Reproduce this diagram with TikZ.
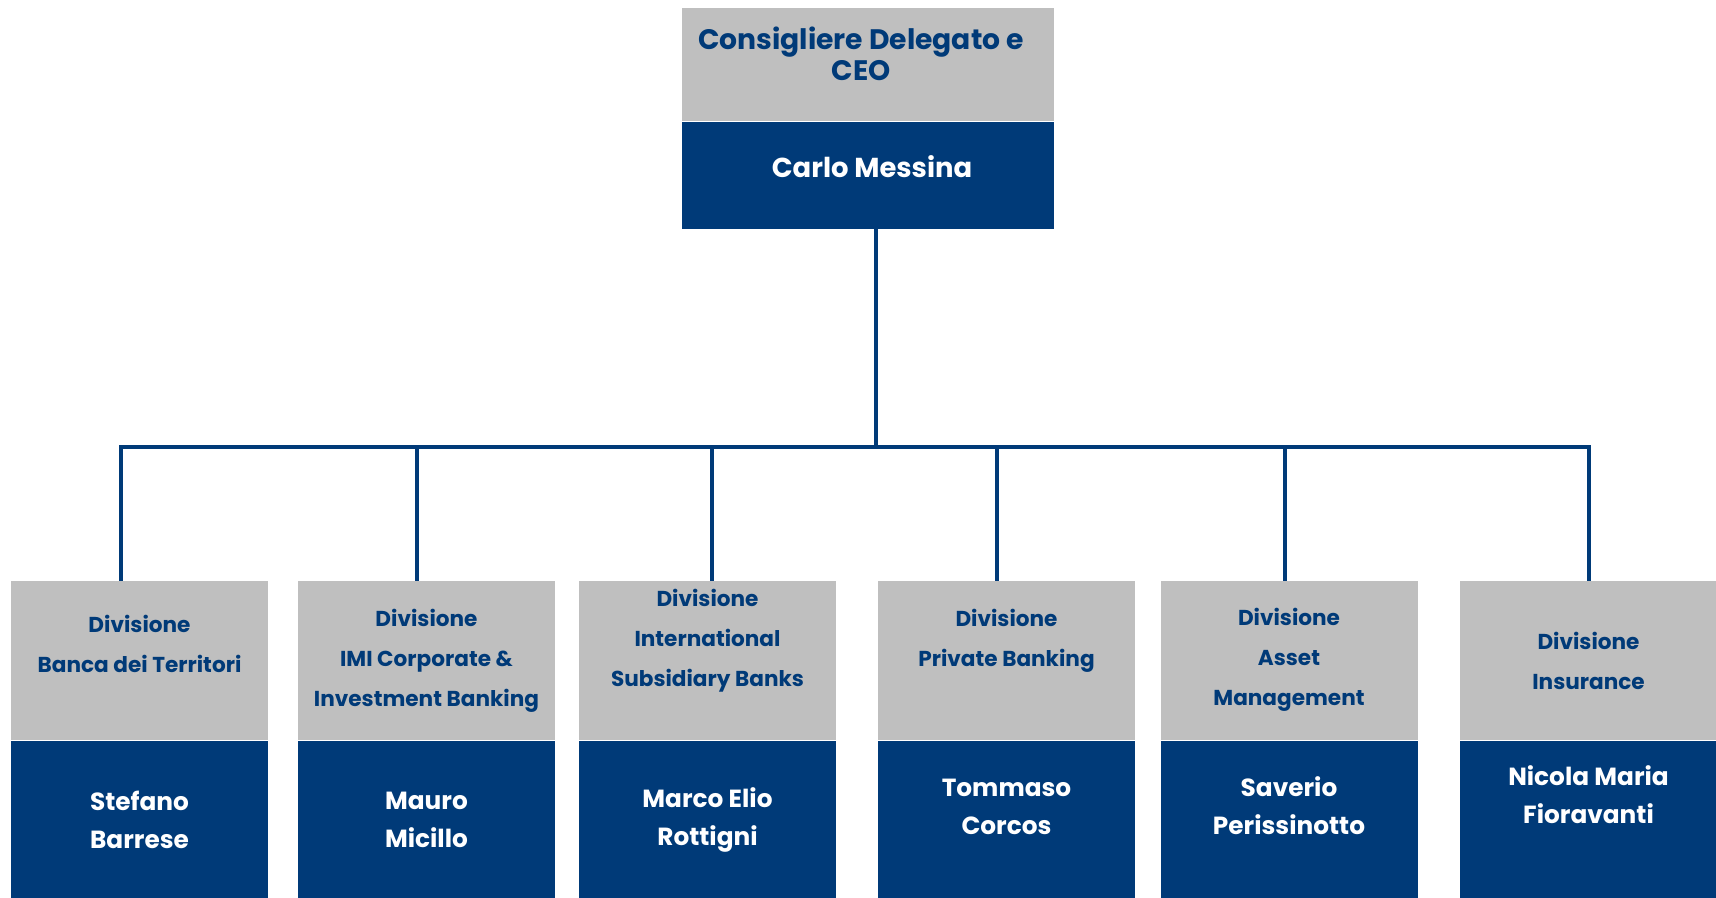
\documentclass[tikz,border=0pt]{standalone}
\usepackage{fontspec}
\setmainfont{Poppins}
\usetikzlibrary{positioning}
\definecolor{isblue}{RGB}{0,58,120}
\definecolor{isgray}{RGB}{191,191,191}
\tikzset{
	headbox/.style={fill=isgray,inner sep=0pt,minimum width=128.5pt,minimum height=79.5pt},
	namebox/.style={fill=isblue,inner sep=0pt,minimum width=128.5pt,minimum height=80pt},
	headtext/.style={text=isblue,font=\bfseries\fontsize{10.8}{20}\selectfont,align=center},
	nametext/.style={text=white,font=\bfseries\fontsize{12.4}{19}\selectfont,align=center},
	link/.style={draw=isblue,line width=1.65pt}
}
\begin{document}
\begin{tikzpicture}[x=0.5pt,y=-0.5pt]
		\useasboundingbox (0,0) rectangle (1716,898);
		% vertice
		\node[headbox,minimum width=186pt,minimum height=56.5pt] (ceohead) at (868,64.5) {};
		\node[namebox,minimum width=186pt,minimum height=53.5pt,below=0pt of ceohead] (ceoname) {};
		\node[headtext,font=\bfseries\fontsize{14.1}{15.5}\selectfont] (ceotitle) at (861,53.5) {Consigliere Delegato e\\CEO};
		\node[nametext,font=\bfseries\fontsize{13.7}{16}\selectfont] (ceotext) at (872,167) {Carlo Messina};
		\coordinate (bus) at (876,447);
		\draw[link] (ceoname.south -| bus)--(bus);
		% divisioni
		\foreach \i/\cx/\dx/\hy/\htxt/\ny/\ntxt in {
			1/139.5/-18.5/643.5/{Divisione\\Banca dei Territori}/820/{Stefano\\Barrese},
			2/426.5/-9.5/660.5/{Divisione\\IMI Corporate \&\\Investment Banking}/820/{Mauro\\Micillo},
			3/707.5/4.5/640.5/{Divisione\\International\\Subsidiary Banks}/820/{Marco Elio\\Rottigni},
			4/1006.5/-9.5/640.5/{Divisione\\Private Banking}/807/{Tommaso\\Corcos},
			5/1289/-4/660/{Divisione\\Asset\\Management}/806/{Saverio\\Perissinotto},
			6/1588.5/0.5/660.5/{Divisione\\Insurance}/794.5/{Nicola Maria\\Fioravanti}}{
			\node[headbox] (h\i) at (\cx,660.5) {};
			\node[namebox,below=0pt of h\i] (n\i) {};
			\node[headtext] (ht\i) at (\cx,\hy) {\htxt};
			\node[nametext] (nt\i) at (\cx,\ny) {\ntxt};
			\draw[link] ([xshift=\dx*0.5pt]h\i.north) |- (bus);
		}
	\end{tikzpicture}
\end{document}
